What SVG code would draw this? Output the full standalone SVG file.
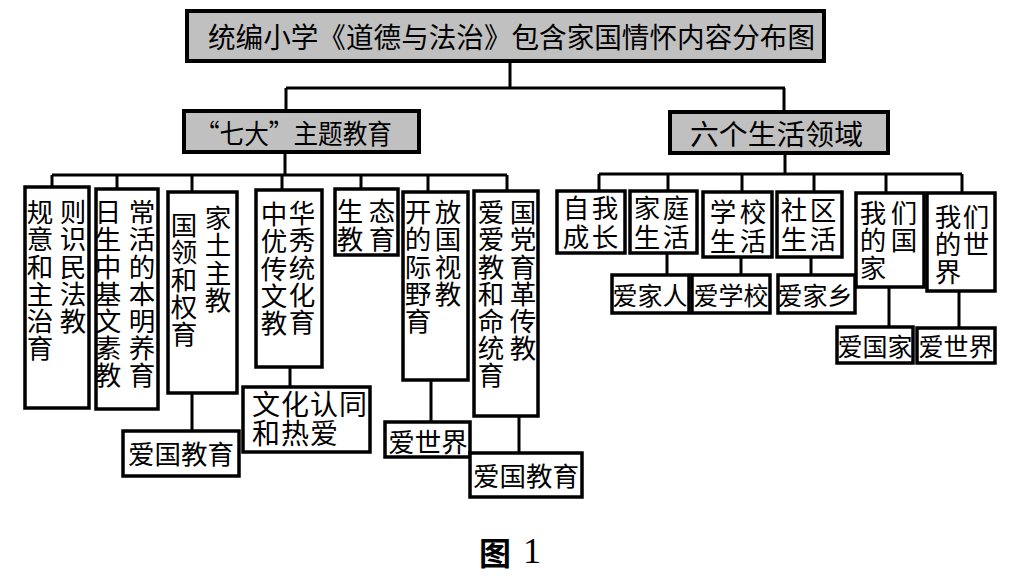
<svg xmlns="http://www.w3.org/2000/svg" width="1018" height="583" viewBox="0 0 1018 583">
<style>
.box{fill:#fff;stroke:#000;stroke-width:3.5}
.gbox{fill:#c0c0c0;stroke:#000;stroke-width:4}
.ln{fill:none;stroke:#000;stroke-width:3}
text{font-family:"Noto Sans CJK SC","Noto Sans CJK TC",sans-serif;fill:#000;dominant-baseline:central}
.c{font-size:26.5px;text-anchor:middle}
.v{font-size:26.5px;writing-mode:vertical-rl;letter-spacing:0.6px}
.v2{font-size:26.5px;writing-mode:vertical-rl;letter-spacing:2.5px}
.vw{font-size:28px;writing-mode:vertical-rl;letter-spacing:1px}
.s{font-size:25px;text-anchor:middle}
.h{font-size:28px}
</style>
<rect width="1018" height="583" fill="#fff"/>
<g id="connectors" class="ln">
<path d="M510 61V88M286 88H785M286 88V111M784 88V112"/>
<path d="M285 152V175M52 175H507M52 175V187M117 175V189M192 175V192M282 175V190M361 175V189M428 175V192M507 175V191"/>
<path d="M192 393V430M290 367V387M431 380V422M519 416V453"/>
<path d="M785 152V174M599 174H962M599 174V191M668 174V191M742 174V192M814 174V192M886 174V193M962 174V193"/>
<path d="M667 253V275M741 257V275M811 257V275M889 287V327M959 291V328"/>
</g>
<g id="title"><rect class="gbox" x="187" y="11" width="637" height="50"/><text class="h" x="208" y="36" textLength="607" lengthAdjust="spacingAndGlyphs">统编小学《道德与法治》包含家国情怀内容分布图</text></g>
<g id="qida"><rect class="gbox" x="184" y="111" width="235" height="41"/><text x="195" y="132" font-size="27" textLength="197" lengthAdjust="spacingAndGlyphs">“七大”主题教育</text></g>
<g id="liuge"><rect class="gbox" x="670" y="112" width="218" height="41"/><text x="690" y="133" font-size="28" textLength="173" lengthAdjust="spacingAndGlyphs">六个生活领域</text></g>

<g id="guize"><rect class="box" x="25" y="187" width="64" height="221"/>
<text class="v" x="40" y="199">规意和主治育</text><text class="v" x="73" y="199">则识民法教</text></g>

<g id="richang"><rect class="box" x="96" y="189" width="62" height="220"/>
<text class="v" x="108" y="199">日生中基文素教</text><text class="v" x="142" y="199">常活的本明养育</text></g>

<g id="guojia"><rect class="box" x="168" y="192" width="69" height="201"/>
<text class="v" x="184" y="212">国领和权育</text><text class="v" x="218" y="205">家土主教</text></g>

<g id="zhonghua"><rect class="box" x="256" y="190" width="66" height="177"/>
<text class="v" x="274" y="201">中优传文教</text><text class="v" x="302" y="200">华秀统化育</text></g>

<g id="shengtai"><rect class="box" x="335" y="189" width="63" height="66"/>
<text class="v" x="350" y="198" style="letter-spacing:1.5px">生教</text><text class="v" x="382" y="198" style="letter-spacing:1.5px">态育</text></g>

<g id="kaifang"><rect class="box" x="403" y="192" width="65" height="188"/>
<text class="v" x="418" y="199">开的际野育</text><text class="v" x="448" y="199">放国视教</text></g>

<g id="aiguo"><rect class="box" x="474" y="191" width="64" height="225"/>
<text class="v" x="491" y="199">爱爱教和命统育</text><text class="v" x="523" y="199">国党育革传教</text></g>

<g id="aiguojiaoyu1"><rect class="box" x="123" y="431" width="116" height="45"/><text class="c" x="181" y="452" font-size="27">爱国教育</text></g>
<g id="wenhua"><rect class="box" x="243" y="387" width="127" height="65"/>
<text class="vw" x="266" y="390">文和</text><text class="vw" x="295" y="390">化热</text><text class="vw" x="324" y="390">认爱</text><text class="vw" x="353" y="390">同</text></g>
<g id="aishijie1"><rect class="box" x="385" y="422" width="85" height="35"/><text class="c" x="428" y="440">爱世界</text></g>
<g id="aiguojiaoyu2"><rect class="box" x="470" y="453" width="112" height="44"/><text class="c" x="526" y="474" font-size="27">爱国教育</text></g>

<g id="ziwo"><rect class="box" x="557" y="191" width="68" height="62"/>
<text class="v2" x="576" y="195">自成</text><text class="v2" x="605" y="195">我长</text></g>
<g id="jiating"><rect class="box" x="630" y="191" width="67" height="62"/>
<text class="v2" x="647" y="195">家生</text><text class="v2" x="676" y="195">庭活</text></g>
<g id="xuexiao"><rect class="box" x="703" y="192" width="69" height="65"/>
<text class="v2" x="723" y="199">学生</text><text class="v2" x="753" y="199">校活</text></g>
<g id="shequ"><rect class="box" x="777" y="192" width="65" height="65"/>
<text class="v2" x="794" y="197">社生</text><text class="v2" x="823" y="197">区活</text></g>
<g id="women_guo"><rect class="box" x="856" y="193" width="68" height="94"/>
<text class="v" x="873" y="200">我的家</text><text class="v" x="904" y="200">们国</text></g>
<g id="women_shi"><rect class="box" x="927" y="193" width="68" height="98"/>
<text class="v" x="948" y="204">我的界</text><text class="v" x="976" y="204">们世</text></g>

<g id="aijiaren"><rect class="box" x="612" y="275" width="77" height="38"/><text class="s" x="650" y="294">爱家人</text></g>
<g id="aixuexiao"><rect class="box" x="692" y="275" width="78" height="38"/><text class="s" x="731" y="294">爱学校</text></g>
<g id="aijiaxiang"><rect class="box" x="778" y="275" width="77" height="38"/><text class="s" x="815" y="294">爱家乡</text></g>
<g id="aiguojia"><rect class="box" x="837" y="327" width="76" height="36"/><text class="s" x="875" y="345">爱国家</text></g>
<g id="aishijie2"><rect class="box" x="917" y="328" width="78" height="35"/><text class="s" x="956" y="345">爱世界</text></g>

<g id="caption"><text x="495" y="551" font-size="32" font-weight="bold" text-anchor="middle">图</text><text x="532" y="551" style="font-family:'Liberation Serif',serif" font-size="36" text-anchor="middle">1</text></g>
</svg>
